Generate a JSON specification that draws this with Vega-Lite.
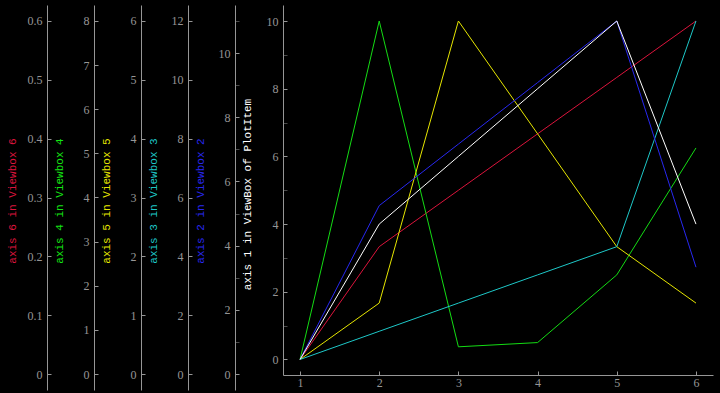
{
  "$schema": "https://vega.github.io/schema/vega-lite/v6.json",
  "background": "#000000",
  "padding": {"left": 6, "top": 5, "right": 8, "bottom": 3},
  "spacing": 0,
  "bounds": "flush",
  "config": {
    "view": {"stroke": null},
    "axis": {
      "domainColor": "#969696",
      "tickColor": "#969696",
      "labelColor": "#969696",
      "labelFont": "Liberation Serif",
      "labelFontSize": 12,
      "titleFont": "Liberation Mono",
      "titleFontSize": 11,
      "titleFontWeight": "normal",
      "grid": false,
      "tickSize": -4,
      "labelPadding": 9,
      "labelOverlap": false,
      "labelFlush": false,
      "titleAngle": -90,
      "titleAlign": "center",
      "titleBaseline": "middle"
    }
  },
  "datasets": {
    "d": [
      {"x": 1, "v": 0, "s": "white"}, {"x": 2, "v": 4, "s": "white"}, {"x": 3, "v": 6, "s": "white"}, {"x": 4, "v": 8, "s": "white"}, {"x": 5, "v": 10, "s": "white"}, {"x": 6, "v": 4, "s": "white"},
      {"x": 1, "v": 0, "s": "blue"}, {"x": 2, "v": 5, "s": "blue"}, {"x": 3, "v": 7, "s": "blue"}, {"x": 4, "v": 9, "s": "blue"}, {"x": 5, "v": 11, "s": "blue"}, {"x": 6, "v": 3, "s": "blue"},
      {"x": 1, "v": 0, "s": "cyan"}, {"x": 2, "v": 1, "s": "cyan"}, {"x": 3, "v": 2, "s": "cyan"}, {"x": 4, "v": 3, "s": "cyan"}, {"x": 5, "v": 4, "s": "cyan"}, {"x": 6, "v": 12, "s": "cyan"},
      {"x": 1, "v": 0, "s": "yellow"}, {"x": 2, "v": 1, "s": "yellow"}, {"x": 3, "v": 6, "s": "yellow"}, {"x": 4, "v": 4, "s": "yellow"}, {"x": 5, "v": 2, "s": "yellow"}, {"x": 6, "v": 1, "s": "yellow"},
      {"x": 1, "v": 0, "s": "green"}, {"x": 2, "v": 8, "s": "green"}, {"x": 3, "v": 0.3, "s": "green"}, {"x": 4, "v": 0.4, "s": "green"}, {"x": 5, "v": 2, "s": "green"}, {"x": 6, "v": 5, "s": "green"},
      {"x": 1, "v": 0, "s": "red"}, {"x": 2, "v": 0.2, "s": "red"}, {"x": 3, "v": 0.3, "s": "red"}, {"x": 4, "v": 0.4, "s": "red"}, {"x": 5, "v": 0.5, "s": "red"}, {"x": 6, "v": 0.6, "s": "red"}
    ]
  },
  "data": {"name": "d"},
  "hconcat": [
    {
      "width": 47, "height": 385,
      "transform": [{"filter": "datum.s === 'red'"}],
      "mark": {"type": "point", "opacity": 0},
      "encoding": {
        "y": {"field": "v", "type": "quantitative",
          "scale": {"domain": [-0.02718, 0.62718], "nice": false, "zero": false},
          "axis": {"title": "axis 6 in Viewbox 6", "titleColor": "#dc143c", "titleX": -35, "titleY": 195.5,
            "format": ".1~f",
            "values": [0, 0.1, 0.2, 0.3, 0.4, 0.5, 0.6]}}
      }
    },
    {
      "width": 47, "height": 385,
      "transform": [{"filter": "datum.s === 'green'"}],
      "mark": {"type": "point", "opacity": 0},
      "encoding": {
        "y": {"field": "v", "type": "quantitative",
          "scale": {"domain": [-0.3624, 8.3624], "nice": false, "zero": false},
          "axis": {"title": "axis 4 in Viewbox 4", "titleColor": "#14e614", "titleX": -35, "titleY": 195.5,
            "values": [0, 1, 2, 3, 4, 5, 6, 7, 8]}}
      }
    },
    {
      "width": 47, "height": 385,
      "transform": [{"filter": "datum.s === 'yellow'"}],
      "mark": {"type": "point", "opacity": 0},
      "encoding": {
        "y": {"field": "v", "type": "quantitative",
          "scale": {"domain": [-0.2718, 6.2718], "nice": false, "zero": false},
          "axis": {"title": "axis 5 in Viewbox 5", "titleColor": "#e6e600", "titleX": -35, "titleY": 195.5,
            "values": [0, 1, 2, 3, 4, 5, 6]}}
      }
    },
    {
      "width": 47, "height": 385,
      "transform": [{"filter": "datum.s === 'cyan'"}],
      "mark": {"type": "point", "opacity": 0},
      "encoding": {
        "y": {"field": "v", "type": "quantitative",
          "scale": {"domain": [-0.5436, 12.5436], "nice": false, "zero": false},
          "axis": {"title": "axis 3 in Viewbox 3", "titleColor": "#1ec8c8", "titleX": -35, "titleY": 195.5,
            "values": [0, 2, 4, 6, 8, 10, 12]}}
      }
    },
    {
      "width": 48, "height": 385,
      "transform": [{"filter": "datum.s === 'blue'"}],
      "mark": {"type": "point", "opacity": 0},
      "encoding": {
        "y": {"field": "v", "type": "quantitative",
          "scale": {"domain": [-0.4983, 11.4983], "nice": false, "zero": false},
          "axis": {"title": "axis 2 in Viewbox 2", "titleColor": "#2828f0", "titleX": -35, "titleY": 195.5,
            "values": [0, 1, 2, 3, 4, 5, 6, 7, 8, 9, 10, 11],
            "labelExpr": "datum.value % 2 === 0 ? datum.label : ''",
            "tickColor": {"condition": {"test": "datum.value % 2 !== 0", "value": "#4b4b4b"}, "value": "#969696"}}}
      }
    },
    {
      "width": 430, "height": 370,
      "encoding": {
        "x": {"field": "x", "type": "quantitative",
          "scale": {"domain": [0.785, 6.215], "nice": false, "zero": false},
          "axis": {"title": null, "values": [1, 2, 3, 4, 5, 6], "labelPadding": 6}}
      },
      "layer": [
        {
          "transform": [{"filter": "datum.s === 'red'"}],
          "mark": {"type": "line", "color": "#dc143c", "strokeWidth": 1},
          "encoding": {"y": {"field": "v", "type": "quantitative", "scale": {"domain": [-0.02748, 0.62838], "nice": false, "zero": false}, "axis": null}}
        },
        {
          "transform": [{"filter": "datum.s === 'green'"}],
          "mark": {"type": "line", "color": "#14dc14", "strokeWidth": 1},
          "encoding": {"y": {"field": "v", "type": "quantitative", "scale": {"domain": [-0.3664, 8.3784], "nice": false, "zero": false}, "axis": null}}
        },
        {
          "transform": [{"filter": "datum.s === 'yellow'"}],
          "mark": {"type": "line", "color": "#e6e600", "strokeWidth": 1},
          "encoding": {"y": {"field": "v", "type": "quantitative", "scale": {"domain": [-0.2748, 6.2838], "nice": false, "zero": false}, "axis": null}}
        },
        {
          "transform": [{"filter": "datum.s === 'cyan'"}],
          "mark": {"type": "line", "color": "#1ec8c8", "strokeWidth": 1},
          "encoding": {"y": {"field": "v", "type": "quantitative", "scale": {"domain": [-0.5496, 12.5676], "nice": false, "zero": false}, "axis": null}}
        },
        {
          "transform": [{"filter": "datum.s === 'blue'"}],
          "mark": {"type": "line", "color": "#2828f0", "strokeWidth": 1},
          "encoding": {"y": {"field": "v", "type": "quantitative", "scale": {"domain": [-0.5038, 11.5203], "nice": false, "zero": false}, "axis": null}}
        },
        {
          "transform": [{"filter": "datum.s === 'white'"}],
          "mark": {"type": "line", "color": "#ffffff", "strokeWidth": 1},
          "encoding": {"y": {"field": "v", "type": "quantitative", "scale": {"domain": [-0.458, 10.473], "nice": false, "zero": false},
            "axis": {"title": "axis 1 in ViewBox of PlotItem", "titleColor": "#ffffff", "titleX": -36, "titleY": 189,
              "values": [0, 1, 2, 3, 4, 5, 6, 7, 8, 9, 10],
              "labelExpr": "datum.value % 2 === 0 ? datum.label : ''",
              "tickColor": {"condition": {"test": "datum.value % 2 !== 0", "value": "#4b4b4b"}, "value": "#969696"}}}}
        }
      ],
      "resolve": {"scale": {"y": "independent"}}
    }
  ]
}
